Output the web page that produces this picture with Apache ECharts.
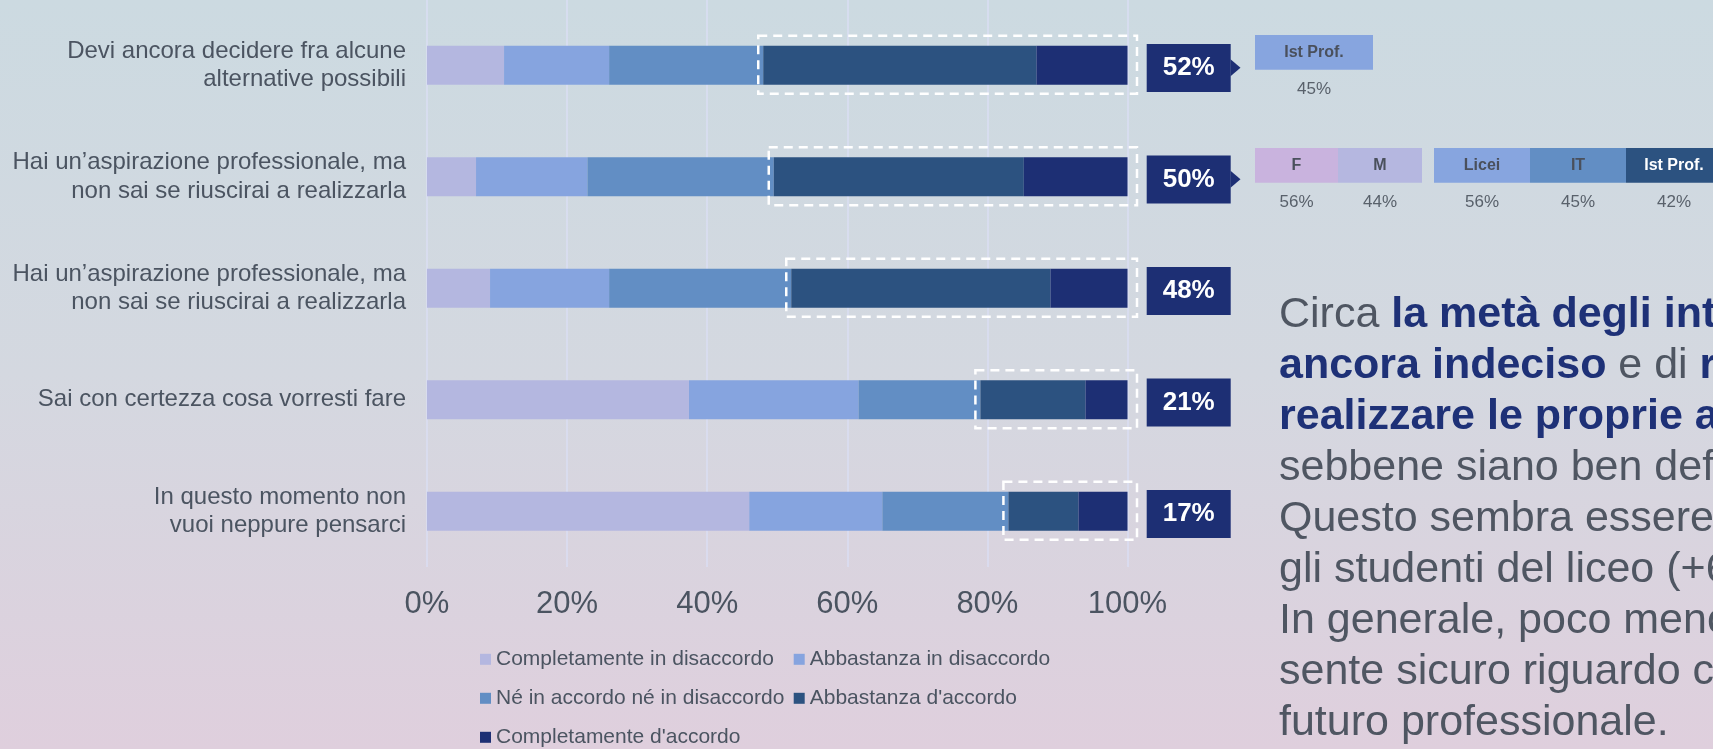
<!DOCTYPE html>
<html>
<head>
<meta charset="utf-8">
<script src="https://cdn.jsdelivr.net/npm/echarts@6/dist/echarts.min.js"></script>
<style>
html,body{margin:0;padding:0;width:1713px;height:749px;overflow:hidden;}
#chart{width:1713px;height:749px;}
</style>
</head>
<body>
<div id="chart"></div>
<script>
// ---------- DATA ----------
const categories = [
  'Devi ancora decidere fra alcune\nalternative possibili',
  'Hai un\u2019aspirazione professionale, ma\nnon sai se riuscirai a realizzarla',
  'Hai un\u2019aspirazione professionale, ma\nnon sai se riuscirai a realizzarla',
  'Sai con certezza cosa vorresti fare',
  'In questo momento non\nvuoi neppure pensarci'
];
const seriesNames = [
  'Completamente in disaccordo',
  'Abbastanza in disaccordo',
  'N\u00e9 in accordo n\u00e9 in disaccordo',
  "Abbastanza d'accordo",
  "Completamente d'accordo"
];
const completamenteDisaccordo = [11, 7, 9, 37.4, 46];
const abbastanzaDisaccordo    = [15, 15.9, 17, 24.2, 19];
const neAccordoNeDisaccordo   = [22, 26.6, 26, 17.4, 18];
const abbastanzaAccordo       = [39, 35.7, 37, 15, 10];
const completamenteAccordo    = [13, 14.8, 11, 6, 7];
const agreeLabels = [52, 50, 48, 21, 17];
const xTickValues = [0, 20, 40, 60, 80, 100];
const rowsWithBreakdown = [0, 1];

const breakdown1Labels = ['Ist Prof.'];
const breakdown1Values = ['45%'];
const breakdown2Labels = ['F', 'M', 'Licei', 'IT', 'Ist Prof.'];
const breakdown2Values = ['56%', '44%', '56%', '45%', '42%'];

const textLines = [
  [['n', 'Circa '], ['b', 'la met\u00e0 degli intervistati']],
  [['b', 'ancora indeciso'], ['n', ' e di '], ['b', 'riuscire a']],
  [['b', 'realizzare le proprie aspirazioni']],
  [['n', 'sebbene siano ben definite.']],
  [['n', 'Questo sembra essere']],
  [['n', 'gli studenti del liceo (+6%).']],
  [['n', 'In generale, poco meno']],
  [['n', 'sente sicuro riguardo cosa']],
  [['n', 'futuro professionale.']]
];

// ---------- STYLE ----------
const FONT = '"Liberation Sans", Arial, Helvetica, sans-serif';
const TXT = '#4B5461';
const NAVY = '#1D2F74';
const colors = ['#B4B7E0', '#86A4DF', '#628EC4', '#2C5280', '#1D2F74'];
const valueArrays = [completamenteDisaccordo, abbastanzaDisaccordo, neAccordoNeDisaccordo, abbastanzaAccordo, completamenteAccordo];

const barSeries = valueArrays.map((arr, k) => ({
  name: seriesNames[k],
  type: 'bar',
  stack: 'total',
  barWidth: 39,
  data: arr,
  itemStyle: { color: colors[k] },
  silent: true
}));

const overlaySeries = {
  type: 'custom',
  silent: true,
  clip: false,
  z: 5,
  encode: { x: 0, y: 1 },
  data: agreeLabels.map((a, i) => [abbastanzaAccordo[i] !== undefined ? 100 - abbastanzaAccordo[i] - completamenteAccordo[i] : 100 - a, i, a]),
  renderItem: function (params, api) {
    const start = api.value(0), idx = api.value(1), a = api.value(2);
    const p0 = api.coord([start, idx]);
    const p1 = api.coord([100, idx]);
    const cy = p0[1];
    const children = [
      { type: 'rect', shape: { x: p0[0] - 5, y: cy - 29.5, width: p1[0] - p0[0] + 14.5, height: 58 },
        style: { fill: 'none', stroke: '#FFFFFF', lineWidth: 2.5, lineDash: [9, 6] } },
      { type: 'rect', shape: { x: p1[0] + 19.2, y: cy - 21.3, width: 84, height: 48 },
        style: { fill: NAVY } },
      { type: 'text', style: { text: a + '%', x: p1[0] + 61.2, y: cy + 2.7, align: 'center', verticalAlign: 'middle',
        fill: '#FFFFFF', fontSize: 26, fontWeight: 'bold', fontFamily: FONT } }
    ];
    if (rowsWithBreakdown.indexOf(idx) >= 0) {
      children.push({ type: 'polygon', shape: { points: [[p1[0] + 103, cy - 6], [p1[0] + 113, cy + 2.5], [p1[0] + 103, cy + 11]] },
        style: { fill: NAVY } });
    }
    return { type: 'group', children: children };
  }
};

// ---------- GRAPHICS (breakdowns + commentary) ----------
const graphics = [];
function cell(x, y, w, h, fill, label, labelColor, value, valueY) {
  graphics.push({ type: 'rect', shape: { x: x, y: y, width: w, height: h }, style: { fill: fill }, silent: true });
  graphics.push({ type: 'text', x: x + w / 2, y: y + h / 2, style: { text: label, align: 'center', verticalAlign: 'middle',
    fill: labelColor, fontSize: 16, fontWeight: 'bold', fontFamily: FONT }, silent: true });
  graphics.push({ type: 'text', x: x + w / 2, y: valueY, style: { text: value, align: 'center', verticalAlign: 'middle',
    fill: '#59616B', fontSize: 17, fontFamily: FONT }, silent: true });
}
cell(1255, 35, 118, 34.7, '#87A5DF', breakdown1Labels[0], '#4A505C', breakdown1Values[0], 89.3);
const b2x = [1255, 1338, 1434, 1530, 1626];
const b2w = [83, 84, 96, 96, 96];
const b2fill = ['#C9B3DE', '#B5B7E0', '#87A5DF', '#628EC4', '#2C5280'];
const b2txt = ['#4A505C', '#4A505C', '#4A505C', '#4A505C', '#FFFFFF'];
breakdown2Labels.forEach((l, i) => cell(b2x[i], 148, b2w[i], 34.7, b2fill[i], l, b2txt[i], breakdown2Values[i], 202.3));

textLines.forEach((parts, i) => {
  graphics.push({
    type: 'text', x: 1279, y: 315 + i * 51, silent: true,
    style: {
      text: parts.map(p => '{' + p[0] + '|' + p[1] + '}').join(''),
      verticalAlign: 'middle',
      rich: {
        n: { fontSize: 43, lineHeight: 43, fill: '#4F5662', fontFamily: FONT },
        b: { fontSize: 43, lineHeight: 43, fill: '#1E3177', fontWeight: 'bold', fontFamily: FONT }
      }
    }
  });
});

// ---------- CHART ----------
const chart = echarts.init(document.getElementById('chart'), null, { renderer: 'canvas' });
chart.setOption({
  animation: false,
  backgroundColor: {
    type: 'linear', x: 0, y: 0, x2: 0, y2: 1,
    colorStops: [{ offset: 0, color: '#CCDAE1' }, { offset: 0.5, color: '#D4D8E0' }, { offset: 1, color: '#DFCFDD' }]
  },
  grid: [
    { left: 427, right: 585.5, top: 9.5, bottom: 182, containLabel: false },
    { left: 427, right: 585.5, top: 0, bottom: 182, containLabel: false }
  ],
  xAxis: [
    {
      type: 'value', gridIndex: 0, min: xTickValues[0], max: xTickValues[xTickValues.length - 1], interval: xTickValues[1] - xTickValues[0],
      axisLine: { show: false }, axisTick: { show: false },
      splitLine: { show: false },
      axisLabel: { formatter: '{value}%', fontSize: 31, color: TXT, fontFamily: FONT, margin: 22 }
    },
    {
      type: 'value', gridIndex: 1, min: xTickValues[0], max: xTickValues[xTickValues.length - 1], interval: xTickValues[1] - xTickValues[0],
      axisLine: { show: false }, axisTick: { show: false }, axisLabel: { show: false },
      splitLine: { show: true, lineStyle: { color: '#DADEF3', width: 1.5 } }
    }
  ],
  yAxis: [
    {
      type: 'category', gridIndex: 0, inverse: true, data: categories,
      axisLine: { show: false }, axisTick: { show: false }, splitLine: { show: false },
      axisLabel: { fontSize: 24, lineHeight: 28.6, color: TXT, fontFamily: FONT, margin: 21, align: 'right', interval: 0 }
    },
    { type: 'value', gridIndex: 1, min: 0, max: 1, show: false, splitLine: { show: false } }
  ],
  legend: [
    { data: [seriesNames[0], seriesNames[2], seriesNames[4]], orient: 'vertical', left: 480, top: 648.8, padding: 0,
      itemWidth: 11, itemHeight: 11, itemGap: 18, icon: 'rect', selectedMode: false,
      textStyle: { fontSize: 21, lineHeight: 21, color: TXT, fontFamily: FONT } },
    { data: [seriesNames[1], seriesNames[3]], orient: 'vertical', left: 793.7, top: 648.8, padding: 0,
      itemWidth: 11, itemHeight: 11, itemGap: 18, icon: 'rect', selectedMode: false,
      textStyle: { fontSize: 21, lineHeight: 21, color: TXT, fontFamily: FONT } }
  ],
  series: barSeries.concat([overlaySeries]),
  graphic: graphics
});
</script>
</body>
</html>
